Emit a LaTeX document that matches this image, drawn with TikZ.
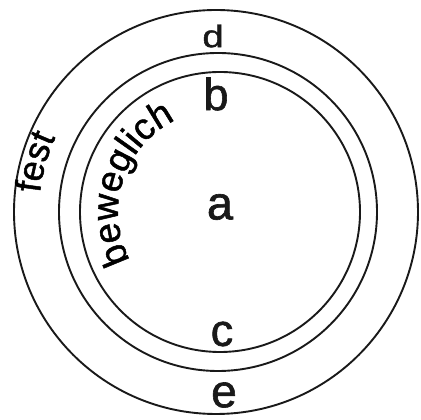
\documentclass[tikz,border=0pt]{standalone}
\usepackage{fontspec}
\setmainfont{Liberation Sans}[FakeBold=1.3]
\usetikzlibrary{decorations.text}
\begin{document}
\begin{tikzpicture}[x=1pt,y=1pt,
  ring/.style={draw=black!90, line width=1.9pt},
  letter/.style={inner sep=0pt, text=black!90},
  big/.style={letter, font=\fontsize{45pt}{45pt}\selectfont}]
\useasboundingbox (0,0) rectangle (421,420);
\fill[white] (0,0) rectangle (421,420);
% circles
\coordinate (oc) at (216,208);
\coordinate (mc) at (218,208);
\coordinate (ic) at (220,208);
\draw[ring] (oc) circle[radius=202];
\draw[ring] (mc) circle[radius=159];
\draw[ring] (ic) circle[radius=140];
% letters
\node[big, font=\fontsize{40pt}{40pt}\selectfont] (d) at (213,384) {\scalebox{0.95}[0.78]{d}};
\node[big] (b) at (216,326) {b};
\node[big, font=\fontsize{47pt}{47pt}\selectfont] (a) at (220,213) {a};
\node[big] (c) at (222,86) {c};
\node[big, font=\fontsize{46pt}{46pt}\selectfont] (e) at (224,25) {e};
% curved labels
\path[decorate, decoration={text along path, text align=center,
  text={|\fontsize{37pt}{37pt}\selectfont|beweglich}}]
  (ic) ++(232:102) arc[start angle=232, end angle=92, radius=102];
\path[decorate, decoration={text along path, text align=center,
  text={|\fontsize{36pt}{36pt}\selectfont|fest}}]
  (oc) ++(200:177) arc[start angle=200, end angle=129, radius=177];
\end{tikzpicture}
\end{document}
